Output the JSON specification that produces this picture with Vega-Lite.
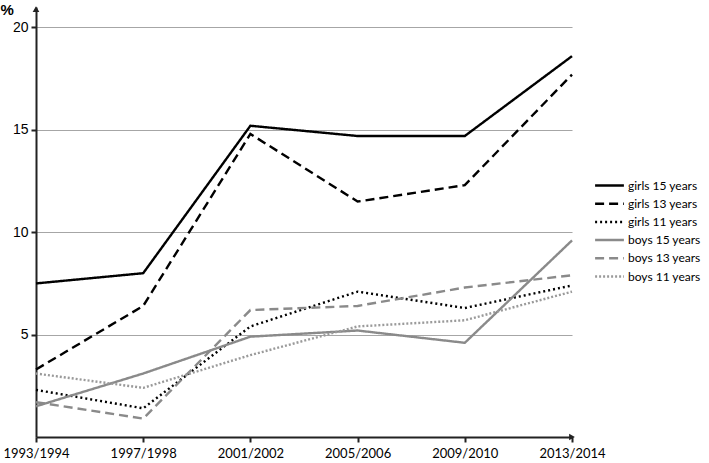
{
  "$schema": "https://vega.github.io/schema/vega-lite/v6.json",
  "width": 536,
  "height": 430,
  "autosize": "none",
  "padding": {"left": 36, "top": 7, "right": 137, "bottom": 26},
  "background": "white",
  "config": {"view": {"stroke": null}},
  "datasets": {
    "series": [
      {"period": "1993/1994", "group": "girls 15 years", "pct": 7.5},
      {"period": "1997/1998", "group": "girls 15 years", "pct": 8.0},
      {"period": "2001/2002", "group": "girls 15 years", "pct": 15.2},
      {"period": "2005/2006", "group": "girls 15 years", "pct": 14.7},
      {"period": "2009/2010", "group": "girls 15 years", "pct": 14.7},
      {"period": "2013/2014", "group": "girls 15 years", "pct": 18.6},
      {"period": "1993/1994", "group": "girls 13 years", "pct": 3.3},
      {"period": "1997/1998", "group": "girls 13 years", "pct": 6.4},
      {"period": "2001/2002", "group": "girls 13 years", "pct": 14.8},
      {"period": "2005/2006", "group": "girls 13 years", "pct": 11.5},
      {"period": "2009/2010", "group": "girls 13 years", "pct": 12.3},
      {"period": "2013/2014", "group": "girls 13 years", "pct": 17.7},
      {"period": "1993/1994", "group": "girls 11 years", "pct": 2.3},
      {"period": "1997/1998", "group": "girls 11 years", "pct": 1.4},
      {"period": "2001/2002", "group": "girls 11 years", "pct": 5.4},
      {"period": "2005/2006", "group": "girls 11 years", "pct": 7.1},
      {"period": "2009/2010", "group": "girls 11 years", "pct": 6.3},
      {"period": "2013/2014", "group": "girls 11 years", "pct": 7.4},
      {"period": "1993/1994", "group": "boys 15 years", "pct": 1.5},
      {"period": "1997/1998", "group": "boys 15 years", "pct": 3.1},
      {"period": "2001/2002", "group": "boys 15 years", "pct": 4.9},
      {"period": "2005/2006", "group": "boys 15 years", "pct": 5.2},
      {"period": "2009/2010", "group": "boys 15 years", "pct": 4.6},
      {"period": "2013/2014", "group": "boys 15 years", "pct": 9.6},
      {"period": "1993/1994", "group": "boys 13 years", "pct": 1.7},
      {"period": "1997/1998", "group": "boys 13 years", "pct": 0.9},
      {"period": "2001/2002", "group": "boys 13 years", "pct": 6.2},
      {"period": "2005/2006", "group": "boys 13 years", "pct": 6.4},
      {"period": "2009/2010", "group": "boys 13 years", "pct": 7.3},
      {"period": "2013/2014", "group": "boys 13 years", "pct": 7.9},
      {"period": "1993/1994", "group": "boys 11 years", "pct": 3.1},
      {"period": "1997/1998", "group": "boys 11 years", "pct": 2.4},
      {"period": "2001/2002", "group": "boys 11 years", "pct": 4.0},
      {"period": "2005/2006", "group": "boys 11 years", "pct": 5.4},
      {"period": "2009/2010", "group": "boys 11 years", "pct": 5.7},
      {"period": "2013/2014", "group": "boys 11 years", "pct": 7.1}
    ],
    "arrows": [
      {"period": "1993/1994", "pct": 20.9, "shape": "triangle-up"},
      {"period": "2013/2014", "pct": 0, "shape": "triangle-right"}
    ]
  },
  "encoding": {
    "x": {
      "field": "period", "type": "ordinal",
      "scale": {"type": "point", "padding": 0},
      "axis": {
        "title": null, "labelAngle": 0, "domainColor": "#222", "domainWidth": 2,
        "tickColor": "#222", "tickWidth": 2, "tickSize": 5, "labelPadding": 5,
        "labelFont": "Lato", "labelFontSize": 13, "labelColor": "#000",
        "grid": false
      }
    },
    "y": {
      "field": "pct", "type": "quantitative",
      "scale": {"domain": [0, 21], "nice": false},
      "axis": {
        "values": [5, 10, 15, 20], "title": "%", "titleAngle": 0, "titleX": -36, "titleY": -5,
        "titleAlign": "left", "titleBaseline": "top", "titleFont": "Liberation Sans", "titleFontSize": 15,
        "titleFontWeight": "bold", "titleColor": "#000",
        "domainColor": "#222", "domainWidth": 2, "tickColor": "#222", "tickWidth": 2, "tickSize": 5,
        "labelFont": "Liberation Sans", "labelFontSize": 14, "labelColor": "#000", "labelPadding": 3,
        "grid": true, "gridColor": "#a6a6a6", "gridWidth": 1.2
      }
    }
  },
  "layer": [
    {
      "data": {"name": "series"},
      "mark": {"type": "line", "strokeWidth": 2.4},
      "encoding": {
        "color": {
          "field": "group", "type": "nominal",
          "scale": {
            "domain": ["girls 15 years", "girls 13 years", "girls 11 years", "boys 15 years", "boys 13 years", "boys 11 years"],
            "range": ["#000000", "#000000", "#000000", "#8a8a8a", "#8a8a8a", "#9a9a9a"]
          },
          "legend": {
            "title": null, "orient": "none", "legendX": 563, "legendY": 168,
            "symbolType": "M-1.6,0H1.6", "symbolSize": 324, "symbolStrokeWidth": 2.5,
            "labelFont": "Lato", "labelFontSize": 12, "labelColor": "#000",
            "labelOffset": 8, "rowPadding": 1.2
          }
        },
        "strokeDash": {
          "field": "group", "type": "nominal",
          "scale": {
            "domain": ["girls 15 years", "girls 13 years", "girls 11 years", "boys 15 years", "boys 13 years", "boys 11 years"],
            "range": [[1, 0], [9, 5], [2, 3], [1, 0], [9, 5], [2, 2]]
          },
          "legend": null
        }
      }
    },
    {
      "data": {"name": "arrows"},
      "mark": {"type": "point", "filled": true, "color": "#222", "size": 45, "opacity": 1},
      "encoding": {
        "shape": {"field": "shape", "type": "nominal", "scale": null}
      }
    }
  ]
}
